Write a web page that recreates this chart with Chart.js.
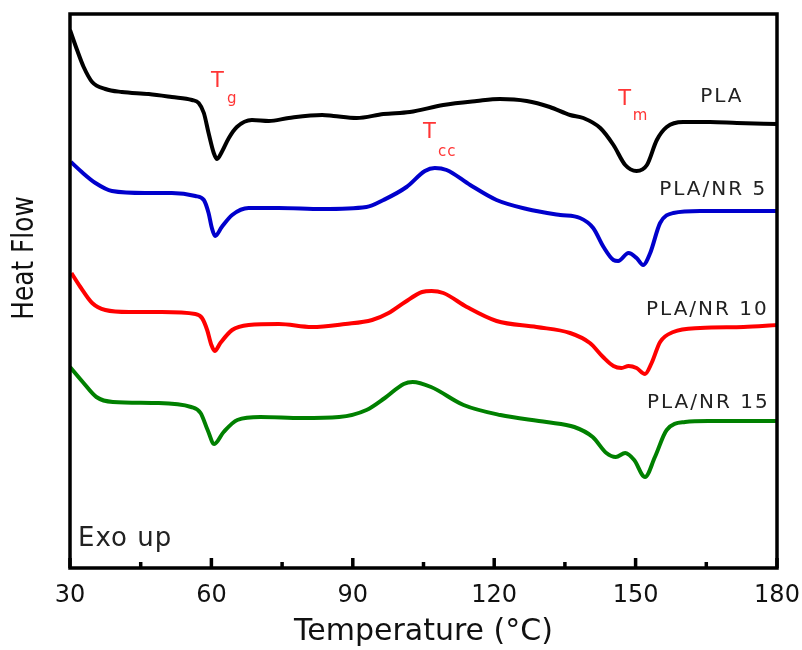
<!DOCTYPE html>
<html><head><meta charset="utf-8">
<script src="https://cdn.jsdelivr.net/npm/chart.js@4.4.0/dist/chart.umd.min.js"></script>
<style>html,body{margin:0;padding:0;background:#fff;}</style>
</head><body>
<canvas id="c" width="802" height="650"></canvas>
<script>
// ---- data (temperature °C, heat flow in arbitrary units) ----
const xTickValues = [30, 60, 90, 120, 150, 180];
const xMinorTickValues = [45, 75, 105, 135, 165];

const plaT  = [30,31.5,32.9,34.7,37.5,41.0,46.7,51.6,55.9,57.3,58.4,59.4,60.5,61.2,62.2,63.7,65.4,68.6,72.2,76.4,83.5,85.9,90.8,96.5,102.1,109.2,116.3,121.2,126.9,131.8,136.1,138.9,142.5,145.3,147.8,150.2,152.4,154.5,156.6,160.1,165.8,171.5,180];
const plaHF = [538,518,501,486,479,476,474,471,468,465,455,435,415,409,416,430,441,448,447,450,453,452,450,454,456,463,467,469,467,461,453,450,440,423,403,397,403,428,441,446,446,445,444];

const nr5T  = [30.2,32.5,35.4,38.9,46.0,51.6,56.6,58.4,59.4,60.1,60.8,62.2,64.4,67.9,74.3,83.5,92.9,96.5,101.4,105.3,107.4,109.9,114.9,120.5,126.9,134.0,138.2,141.0,143.2,145.3,146.3,148.5,150.2,151.6,153.1,155.2,158.0,163.7,180];
const nr5HF = [406,396,385,377,375,375,372,368,355,340,332,341,353,360,360,359,361,368,381,397,400,398,383,368,359,353,350,340,321,308,307,315,310,303,315,345,355,357,357];

const nr10T  = [30.3,32.2,34.7,37.5,42.5,49.5,56.6,58.0,59.1,60.0,60.7,61.9,64.4,67.9,74.3,81.3,88.4,94.1,97.6,101.1,104.7,106.7,109.2,114.2,120.5,129.0,136.1,140.3,143.1,145.3,147.0,148.5,150.2,152.0,153.4,155.2,158.0,163.7,172.9,180];
const nr10HF = [295,281,265,258,256,256,254,250,238,223,217,225,238,243,244,241,244,248,255,266,276,277,275,261,247,241,235,225,211,202,200,202,200,194,205,226,236,240,241,243];

const nr15T  = [30,32.7,35.6,39.1,47.9,55.7,57.7,59.2,60.6,62.6,65.5,70.4,79.2,87.1,92.9,96.8,100.8,102.7,106.6,113.5,121.3,131.1,137.0,140.9,143.8,145.8,147.8,149.7,152.0,154.1,156.6,160.5,165.4,180];
const nr15HF = [201,186,171,166,165,161,155,138,124,136,148,151,150,151,158,170,184,186,181,163,153,146,141,131,115,111,115,108,91,111,138,146,147,147];

const seriesNames = ['PLA', 'PLA/NR 5', 'PLA/NR 10', 'PLA/NR 15'];

// ---- text annotations (placed in data coordinates) ----
const annotations = [
  {text:'PLA',       t:163.7, v:466, size:20, color:'#222', ls:2},
  {text:'PLA/NR 5',  t:155.0, v:373, size:20, color:'#222', ls:2},
  {text:'PLA/NR 10', t:152.2, v:253, size:20, color:'#222', ls:2},
  {text:'PLA/NR 15', t:152.4, v:160, size:20, color:'#222', ls:2},
  {text:'T',  t:59.9,  v:481, size:21, color:'#ff3535', ls:0},
  {text:'g',  t:63.3,  v:465, size:15, color:'#ff3535', ls:0},
  {text:'T',  t:104.9, v:430, size:21, color:'#ff3535', ls:0},
  {text:'cc', t:108.1, v:412, size:15, color:'#ff3535', ls:1},
  {text:'T',  t:146.3, v:463, size:21, color:'#ff3535', ls:0},
  {text:'m',  t:149.4, v:448, size:15, color:'#ff3535', ls:0},
  {text:'Exo up', t:31.7, v:22, size:26, color:'#222', ls:1}
];

const toXY = (ts, vs) => ts.map((t, i) => ({x: t, y: vs[i]}));

const decorPlugin = {
  id: 'decor',
  afterDatasetsDraw(chart) {
    const {ctx, chartArea: a, scales: {x, y}} = chart;
    ctx.save();
    // frame
    ctx.strokeStyle = '#000';
    ctx.lineWidth = 3.5;
    ctx.strokeRect(a.left, a.top, a.right - a.left, a.bottom - a.top);
    // inward ticks
    ctx.beginPath();
    xTickValues.forEach(v => { const px = x.getPixelForValue(v); ctx.moveTo(px, a.bottom); ctx.lineTo(px, a.bottom - 10); });
    xMinorTickValues.forEach(v => { const px = x.getPixelForValue(v); ctx.moveTo(px, a.bottom); ctx.lineTo(px, a.bottom - 6); });
    ctx.stroke();
    // annotations
    ctx.textBaseline = 'alphabetic';
    ctx.textAlign = 'left';
    annotations.forEach(an => {
      ctx.font = an.size + 'px "DejaVu Sans"';
      ctx.fillStyle = an.color;
      try { ctx.letterSpacing = an.ls + 'px'; } catch(e) {}
      ctx.fillText(an.text, x.getPixelForValue(an.t), y.getPixelForValue(an.v));
    });
    try { ctx.letterSpacing = '0px'; } catch(e) {}
    // y-axis title
    ctx.translate(25, 258);
    ctx.rotate(-Math.PI / 2);
    ctx.scale(0.8, 1);
    ctx.font = '31px "DejaVu Sans"';
    ctx.fillStyle = '#111';
    ctx.textAlign = 'center';
    ctx.textBaseline = 'middle';
    ctx.fillText('Heat Flow', 0, 0);
    ctx.restore();
  }
};

new Chart(document.getElementById('c'), {
  type: 'line',
  data: {
    datasets: [
      {label: seriesNames[0], data: toXY(plaT, plaHF),   borderColor: '#000000'},
      {label: seriesNames[1], data: toXY(nr5T, nr5HF),   borderColor: '#0000cc'},
      {label: seriesNames[2], data: toXY(nr10T, nr10HF), borderColor: '#ff0000'},
      {label: seriesNames[3], data: toXY(nr15T, nr15HF), borderColor: '#008000'}
    ]
  },
  options: {
    responsive: false,
    animation: false,
    devicePixelRatio: 1,
    layout: {padding: {top: 14, right: 25, left: 0, bottom: 0}},
    plugins: {legend: {display: false}, tooltip: {enabled: false}},
    elements: {
      point: {radius: 0},
      line: {borderWidth: 4, cubicInterpolationMode: 'monotone', fill: false}
    },
    scales: {
      x: {
        type: 'linear', min: 30, max: 180,
        afterFit(s) { s.height = 82; s.paddingLeft = 0; s.paddingRight = 0; },
        afterBuildTicks(s) { s.ticks = xTickValues.map(v => ({value: v})); },
        grid: {display: false, drawTicks: false},
        border: {display: false},
        ticks: {font: {family: 'DejaVu Sans', size: 24}, color: '#111', padding: 13, maxRotation: 0, autoSkip: false},
        title: {display: true, text: 'Temperature (°C)', font: {family: 'DejaVu Sans', size: 30}, color: '#111', padding: {top: 0, bottom: 0}}
      },
      y: {
        type: 'linear', min: 0, max: 554,
        afterFit(s) { s.width = 70; s.paddingTop = 0; s.paddingBottom = 0; },
        ticks: {display: false},
        grid: {display: false},
        border: {display: false}
      }
    }
  },
  plugins: [decorPlugin]
});
</script>
</body></html>
